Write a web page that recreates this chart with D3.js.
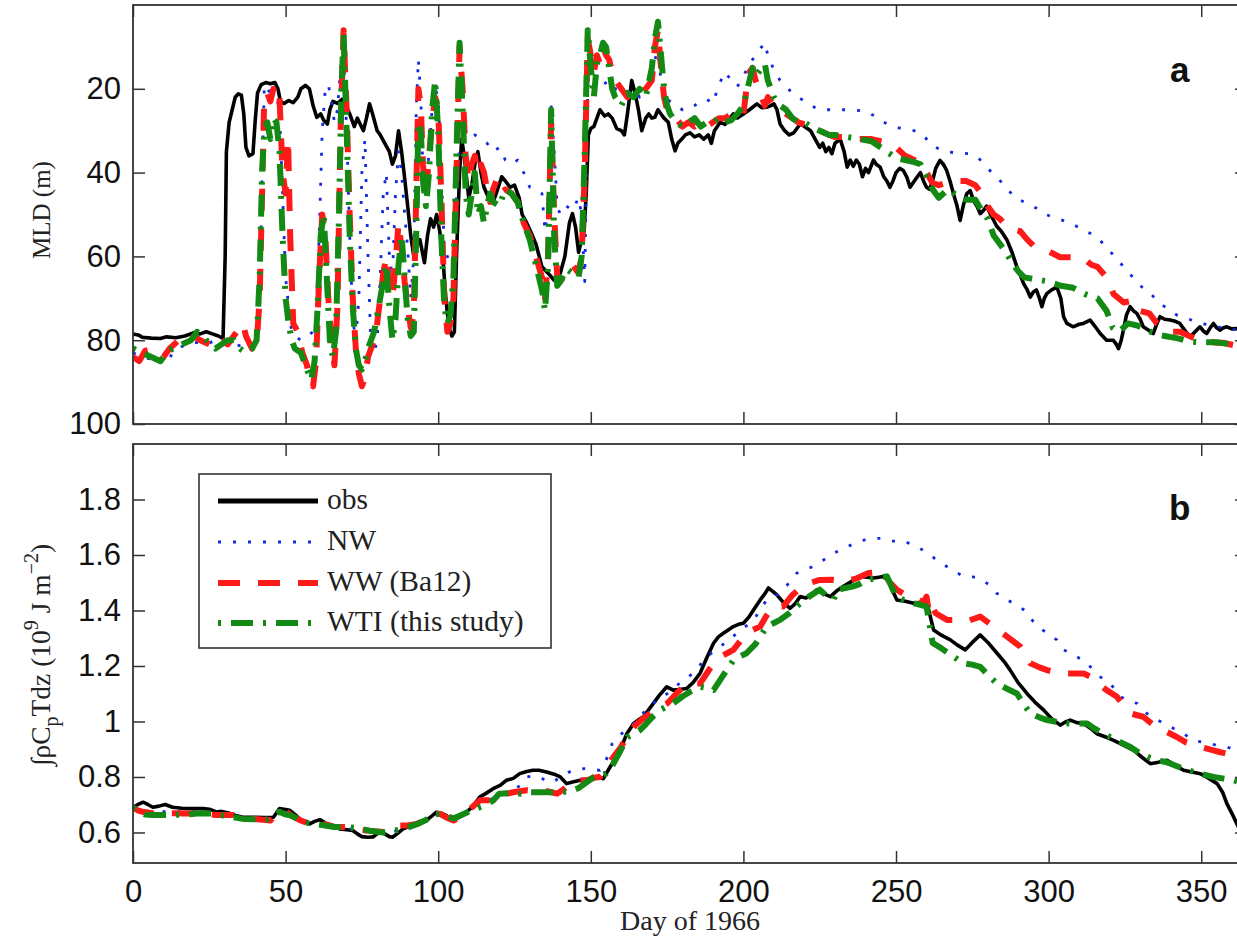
<!DOCTYPE html>
<html>
<head>
<meta charset="utf-8">
<script src="https://cdn.jsdelivr.net/npm/d3@7"></script>
<style>
  html, body { margin: 0; padding: 0; background: #fff; overflow: hidden; }
  svg { display: block; }
</style>
</head>
<body>
<script>
// ---------- data ----------
const dayTicks = [0, 50, 100, 150, 200, 250, 300, 350];
const mldTicks = [20, 40, 60, 80, 100];
const heatTicks = [0.6, 0.8, 1.0, 1.2, 1.4, 1.6, 1.8];
const seriesNames = ["obs", "NW", "WW (Ba12)", "WTI (this study)"];

// (a) mixed layer depth, m  — [day, depth]
const mldObs = [[0,78.5],[2,78.8],[3,79.3],[6,79.5],[9,79.6],[11,79.2],[14,79.4],[17,79],[20,78.2],[22,78.5],[24,78],[26,78.5],[28,79],[29.5,79.6],[30.2,60],[30.6,35],[31.5,28],[32.5,25],[33.5,22],[34.5,21.2],[35.5,21.5],[36.3,26],[37,34],[38,36],[39.3,35.5],[40,28],[40.8,21],[42,19],[43.5,18.5],[45,18.8],[46.5,18.5],[47.5,20],[48.3,23],[49.5,23.5],[51,22.8],[52.5,23.3],[54,22],[55,20],[56.5,19.2],[57.8,20],[59,24],[60.2,26.8],[61.5,26],[62.5,27.5],[63.7,28.4],[64.5,25],[65.5,23],[67,23.5],[68.5,22.5],[69.5,23.5],[71,26],[72.5,29],[73.5,27],[74.5,28.5],[75.5,30],[76.5,27],[77.5,23.6],[78.5,26],[80,30],[81,31],[82.5,33],[84,35],[85,38],[86,36],[87,30],[88,35],[88.8,40],[90,48],[91,55],[92,60],[93,57],[94,56],[95.5,61.5],[96.5,55],[97.5,51],[98.5,53],[99.5,50],[100.5,54],[101.5,60],[102.5,70],[103.5,77],[104.5,79],[105.3,78],[106,60],[107,40],[107.7,32],[108.5,36],[110,46],[111,43],[112.2,37],[113,35],[114,40],[115,43.5],[116.5,46],[118,47],[119,45],[120.8,41],[122,42],[123.5,43.5],[125,43],[126.5,46],[127.5,50],[129,52],[130.6,54.6],[132,57],[134,62.5],[136,64],[138,65.7],[139,64],[140,64],[141.5,60],[143,52],[144,49.8],[145,53],[146,59],[147,56],[147.8,54],[148.5,45],[149.2,31],[150,29.5],[151,29],[152,27],[153,25],[154.5,26.5],[155.7,26],[157,27],[158.5,29.5],[160,30],[161,31],[162,26],[163.4,18],[164.5,21],[165.6,25],[166.7,30],[168,27],[169,26],[170,27],[171,26.8],[172,25],[173,26],[174,27],[175.4,28],[176.5,32],[177.6,34.8],[178.5,33],[179.8,32],[181,31],[182.5,30.5],[184,31.5],[185.5,31],[187,32],[188.5,31],[189.5,33],[190.5,30],[192.4,28],[194,28.5],[196.7,26],[198,27],[200,26],[202,25],[204.4,23.6],[206,24.5],[207.6,24.4],[209,24],[210,23.6],[211,25],[212,28.4],[213.5,30],[215,31],[216.5,30.5],[218.6,28.4],[220,29],[222,30],[223.5,32],[225,34],[226,33],[227,35],[228,34],[229,35.5],[230,33],[231.7,32],[233,35],[234,38.7],[235,37],[236,38.5],[237,37],[238,38],[239,41],[240,39],[241,40],[242.6,37],[243.5,38],[244.8,38.7],[246,41],[247,42],[248,43.5],[249,42],[250,40],[251.2,39],[252.4,39.5],[253.5,41],[254.6,43.5],[256,42],[257,41],[258,40],[259,42],[260,43.5],[261,44],[262,41.9],[263,39],[264.4,37.1],[265.5,38],[266.6,39.5],[267.7,42],[268.8,45],[270,48],[271,51.4],[272,48],[273.2,45],[274.3,44.3],[275.4,46.7],[276.5,48],[277.6,49.8],[278.7,49],[279.7,48],[281,50],[283,52.8],[284.5,54],[286.3,56],[288,59],[289.6,62.5],[291,65],[291.8,66.5],[293,68],[294,69.7],[295,68.5],[296,68],[297,70],[297.8,72],[298.6,70],[299.4,68.9],[301,68],[302.7,67.3],[304,70],[304.9,74.4],[306,76],[308,76.8],[310,76.2],[311.4,76],[313.6,75.2],[315,76.5],[316.9,78.4],[319,80],[321.2,80],[322.2,81],[322.9,82],[323.8,80],[324.5,77.6],[325.5,74],[326.7,72],[327.8,73],[328.9,73.6],[330,75],[331,76.8],[332.5,77.5],[334.3,78.4],[335.5,76],[336.5,74.4],[338,75],[339.8,75.2],[341.5,75.5],[343,76],[345,78],[346.4,79.2],[348,78],[349.6,76.8],[350.7,77.8],[351.8,78.4],[353,77],[354,76],[355,77],[356.2,77.6],[357.3,77],[358.4,76.8],[360,77.3],[361.6,77.2],[363,77.5],[365,77.3]];

const mldNW = [[0,83],[3,84],[6.5,84.6],[9,84],[11,85.5],[13,83],[16,81.5],[20,80.5],[24,81],[27,80],[30,81],[33,81.6],[36,81],[39,81.6],[40.5,80],[41.5,72],[42.3,40],[43,20],[44,19],[45,22],[46,20],[47,22],[48,25],[49,45],[50,65],[51,72],[52,78],[53,79],[55,80],[57,79],[59,78],[60,75],[61,55],[62,30],[63,20],[64,19],[65,23],[66,28],[67,25],[68,15],[69,12],[70,30],[71,55],[72,75],[73,80],[74,70],[75,40],[76,32],[77,60],[78,82],[79,83],[80,80],[81,65],[82,45],[83,40],[84,60],[85,65],[86,45],[87,35],[88,40],[89,50],[90,58],[91,70],[92,60],[92.8,25],[93.5,13],[94.3,22],[95,40],[96,45],[97,35],[98,25],[99,20],[100,22],[101,40],[102,58],[103,60],[104,62],[105,60],[106,45],[107,33],[108,32],[110,32],[112,31],[114,32],[116,33],[118,35],[120,34],[122,37],[124,38],[126,37],[128,40],[130,43.5],[132,44],[134,45],[135,54],[136,48],[137,24],[138,35],[139,48],[140,50],[142,48],[144,49],[146,46],[147,50],[148,66],[149,20],[150,12],[151,18],[152,20],[154,19],[156,18],[158,20],[160,20],[162,21],[164,20],[166,22],[168,20],[170,18],[171,13],[172,11],[173,18],[174,22],[176,23],[178,24],[180,25],[182,25],[184,24],[186,23],[188,22.5],[190,23.5],[192,19],[194,16],[196,18],[198,19.5],[200,17],[202,14],[204,12],[206,10],[207,9],[208,12],[210,15.5],[212,18],[214,19.5],[216,21],[218,22],[220,23],[222,24],[225,25],[230,25],[235,25],[240,25.3],[243,26.5],[246,28],[249,29],[252,29.5],[256,30],[259,31],[261,33],[263,34],[266,35],[270,35.3],[274,35.5],[277,36.5],[280,39],[283,41],[286,43.5],[289,46],[292,47],[296,48.5],[299,50],[303,51],[307,52],[311,53.5],[315,55],[318,57],[321,59.5],[324,62],[327,64.5],[330,67],[333,68.5],[336,71],[339,72.5],[342,74],[346,75],[350,76],[354,76.5],[358,77.3],[362,77.5],[365,77.5]];

const mldWW = [[0,84],[2,85],[4,82.5],[7,82],[10,84],[12,82],[15,80],[18,81],[20,79],[22,80],[25,81],[27,82],[29,80],[31,81],[33,79],[35,77],[36,76],[37,79],[39,82],[40.5,81],[41.5,70],[42.3,45],[43,22],[44,21],[45,23],[46,20],[47,23],[48,22],[49,40],[50,45],[50.8,32],[51.5,55],[52.5,76],[54,78],[55.5,83],[57,86],[58,90],[59,91],[60,85],[61,65],[62,50],[63,55],[64,70],[65,80],[66,86],[67,72],[68,30],[69,6],[70,25],[71,50],[72,70],[73,82],[74,88],[75,91],[76,89],[77,84],[78,82],[79,80],[80,76],[81,70],[82,64],[83,60],[84,66],[85,70],[86,62],[87,52],[88,58],[89,66],[90,72],[91,77],[92,74],[92.8,45],[93.5,20],[94.3,24],[95,38],[96,45],[97,36],[98,28],[99,22],[100,25],[101,45],[102,70],[103,78],[104,76],[105,70],[106,40],[107,10],[108,20],[109,36],[110,42],[111,38],[112,36],[113,40],[114,38],[115,40],[116,44],[117,47],[118,44],[119,42],[120,45],[122,44],[124,45],[126,47],[128,52],[130,55],[132,60],[134,65],[135,70],[136,60],[137,28],[138,50],[139,65],[140,66],[142,64],[144,62],[146,64],[147,60],[148,40],[149,8],[150,12],[151,16],[152,12],[153,14],[154,10],[155,12],[156,13],[157,16],[158,18],[160,20],[162,22],[164,20],[166,21],[168,20],[170,18],[171,10],[172,6],[173,15],[174,22],[175,25],[176,26],[178,27],[180,29],[182,28],[184,29],[186,28],[188,29],[190,28],[192,27],[194,27],[196,26],[198,27],[200,26],[201,20],[202,16],[203,15],[204,18],[205,20],[206,22],[207,24],[208,22],[210,24],[212,25],[214,26],[216,27],[218,28],[220,28.5],[222,29],[225,30],[228,31],[230,31.5],[234,31.5],[238,32],[242,32],[245,32.5],[248,33],[250,34],[253,36],[256,37],[258,37.5],[260,40],[262,42.5],[264,43],[267,42.3],[270,42],[273,42],[276,43],[278,45],[280,48],[282,50],[284,51],[286.4,53],[288,53.5],[290.7,54],[293,56],[295,57.4],[299.5,58.6],[303.8,60.2],[308,60.2],[311.5,60.5],[314,62],[316,62.5],[319,65],[321.3,69],[324.6,71],[328,70.5],[330,73],[333,73.6],[335.5,76],[340,78],[343,78],[348.6,79.8],[355,80.6],[357,80.6],[362,81.4],[365,81.2]];

const mldWTI = [[0,82],[3,83],[6,84],[9,85],[11,83],[13,82],[16,81],[19,80],[21,78],[23,79],[25,81],[27,82],[29,81],[31,80],[33,80],[35,82],[37,83],[39,82],[40.5,80],[41.5,65],[42.3,40],[43,30],[44,28],[45,32],[46,27],[47,28],[48,35],[49,55],[50,70],[51,76],[52,80],[53,82],[55,83],[57,87],[58.4,89.5],[59.5,85],[60.5,72],[61.5,55],[62.5,50],[63.5,65],[64.5,80],[65.5,84],[66.5,78],[67.5,50],[68.3,20],[69,7],[70,30],[71,55],[72,72],[73,82],[74,86],[75,87],[76,85],[77,82],[78,80],[79,78],[80,74],[81,70],[82,66],[83,62],[84,72],[85,80],[86,75],[87,62],[88,55],[89,65],[90,75],[91,79],[92,78],[92.8,55],[93.5,28],[94.3,30],[95,42],[96,48],[97,40],[98,25],[99,18],[100,30],[101,55],[102,72],[103,76],[104,74],[105,65],[106,35],[107,9],[108,25],[109,45],[110,50],[111,45],[112,40],[113,50],[114,48],[115,52],[116,48],[117,45],[118,47],[120,48],[122,44],[124,45],[126,47],[128,52],[130,56],[132,62],[134,68],[135,73],[136,62],[137,25],[138,55],[139,67],[140,66],[142,63],[144,64],[146,65],[147,60],[148,35],[149,6],[150,15],[151,22],[152,14],[153,12],[154,9],[155,10],[156,15],[157,20],[158,22],[160,24],[162,21],[164,22],[166,20],[168,22],[170,15],[171,8],[172,4],[173,12],[174,20],[175,24],[176,26],[178,28],[180,29],[182,28],[184,27],[186,29],[188,28],[190,28],[192,27],[194,28],[196,27.5],[198,26],[200,24],[202,18],[203,15],[204,17],[205,16],[206,15],[207,14],[208,18],[210,22],[212,24],[214,25],[216,27],[218,28],[220,28],[222,29],[225,30],[228,31],[230,31],[234,31.5],[238,32],[242,32.5],[245,34],[248,35.5],[250,36.5],[253,37],[256,37.5],[258,38],[260,41],[262,44],[264,46],[267,44],[270,45.5],[273,46.5],[276,46.5],[278,49],[280,51],[282,55],[284,57],[286,59],[288,61.5],[290,63.5],[292,65],[296,65.5],[300,66],[304,67],[308,67.5],[312,69],[316,70],[319,73],[321,77],[323,78],[326,76],[329,76.5],[332,77.5],[335,78.5],[338,79],[342,79.5],[346,80.3],[350,80.5],[355,80.5],[360,81],[365,81]];

// (b) column heat content, 10^9 J m^-2 — [day, value]
const heatObs = [[0,0.691],[1.5,0.70],[3.3,0.709],[5,0.70],[6.5,0.691],[8.5,0.695],[10.5,0.701],[13,0.691],[16,0.687],[20,0.686],[23,0.686],[25,0.684],[27.3,0.674],[29,0.676],[31.7,0.669],[34,0.66],[36,0.655],[40,0.655],[43,0.654],[46,0.655],[47,0.67],[48,0.686],[49.5,0.684],[51.3,0.68],[53,0.665],[54.6,0.649],[56,0.64],[57.9,0.631],[59.5,0.64],[61.2,0.646],[62.3,0.64],[63.3,0.631],[65.5,0.624],[67.7,0.613],[70,0.61],[72,0.607],[73.5,0.595],[75,0.585],[77,0.583],[78.6,0.584],[80,0.595],[81,0.601],[82.5,0.595],[84,0.585],[85,0.583],[86.5,0.595],[88.5,0.613],[90.5,0.622],[92.8,0.631],[94.5,0.64],[96,0.643],[98,0.66],[99.4,0.673],[101,0.67],[102.7,0.661],[104.8,0.643],[107,0.656],[109.2,0.673],[111,0.69],[113.6,0.728],[115.5,0.74],[118,0.758],[120.3,0.77],[122.3,0.788],[124.6,0.795],[126.7,0.812],[129,0.82],[131,0.824],[133,0.824],[135.5,0.818],[138,0.81],[140,0.8],[142.1,0.776],[144,0.782],[146.5,0.788],[149,0.793],[151.9,0.8],[154.1,0.794],[156.3,0.836],[158,0.866],[159.6,0.896],[161.8,0.956],[164,0.993],[165.5,1.005],[167.2,1.017],[168.8,1.04],[170.5,1.065],[172.5,1.095],[174.9,1.125],[177,1.113],[179,1.115],[181.4,1.119],[183.5,1.14],[185.8,1.174],[188,1.23],[190.2,1.282],[191.8,1.305],[193.4,1.318],[195,1.33],[196.7,1.342],[198.4,1.35],[200,1.354],[201.7,1.375],[203.3,1.402],[205.5,1.438],[207,1.46],[208.2,1.481],[209.5,1.47],[210.9,1.457],[213,1.43],[215.3,1.408],[217,1.425],[218.6,1.45],[220.5,1.445],[222.5,1.46],[224.1,1.475],[226,1.462],[228.5,1.45],[230.5,1.47],[232.8,1.487],[235.5,1.505],[238.3,1.523],[240.5,1.52],[242.7,1.517],[245,1.521],[247,1.523],[248.5,1.48],[250.3,1.438],[253,1.433],[255.8,1.426],[258,1.43],[260.1,1.432],[261.2,1.38],[262.3,1.33],[265,1.31],[267.8,1.294],[270,1.276],[272.7,1.258],[275,1.285],[277.6,1.312],[280.5,1.28],[283.1,1.246],[285.5,1.215],[287.4,1.185],[290,1.14],[292.9,1.101],[295.5,1.07],[298.4,1.041],[301,1.01],[303.8,0.987],[305.5,0.998],[307.1,1.005],[309.2,0.996],[311.5,0.993],[313.8,0.975],[315.8,0.956],[318.5,0.945],[321.3,0.932],[324.5,0.915],[327.9,0.896],[330.5,0.872],[333.3,0.848],[336,0.853],[338.8,0.86],[341.5,0.842],[344.2,0.824],[347,0.818],[349.7,0.812],[352.5,0.795],[355.2,0.776],[357,0.745],[358.4,0.704],[360,0.67],[361.7,0.631],[363,0.60],[365,0.56]];

const heatNW = [[0,0.69],[3,0.68],[6,0.675],[12,0.675],[18,0.675],[24,0.675],[30,0.665],[35,0.653],[40,0.652],[45,0.65],[47,0.665],[49,0.685],[51,0.675],[54,0.655],[58,0.635],[62,0.628],[66,0.62],[70,0.615],[75,0.605],[80,0.603],[84,0.6],[88,0.61],[92,0.628],[96,0.645],[99,0.665],[102,0.66],[105,0.648],[109,0.675],[113,0.7],[116,0.716],[120,0.728],[124,0.75],[127,0.77],[129,0.8],[132,0.805],[134,0.795],[136.5,0.78],[138,0.785],[141,0.805],[144,0.825],[148,0.83],[153,0.824],[155,0.86],[157,0.92],[160,0.955],[164,0.993],[168,1.04],[171,1.07],[175,1.1],[179,1.137],[183.6,1.174],[188,1.233],[192.3,1.27],[195,1.29],[199,1.33],[203,1.36],[207.6,1.438],[212,1.462],[215,1.5],[217.5,1.535],[220,1.545],[223,1.56],[226,1.58],[228.5,1.60],[233,1.625],[238.3,1.65],[241.6,1.66],[245,1.66],[248,1.65],[252.5,1.65],[257,1.63],[261.2,1.60],[264.5,1.572],[268,1.55],[272,1.523],[276.5,1.52],[281,1.49],[283,1.462],[287,1.435],[292,1.402],[295,1.36],[298,1.33],[302.7,1.294],[305,1.258],[308,1.24],[311.5,1.22],[314.8,1.185],[317,1.16],[320.2,1.137],[323.5,1.09],[326,1.075],[329,1.065],[332.2,1.029],[335,1.01],[337.7,0.993],[340,0.98],[344.2,0.956],[347.5,0.932],[353,0.92],[356,0.912],[358.4,0.908],[361.7,0.896],[365,0.89]];

const heatWW = [[0,0.69],[1.5,0.68],[3,0.675],[6.5,0.669],[12,0.669],[17,0.668],[22,0.669],[27,0.663],[33,0.663],[37,0.649],[41,0.648],[45,0.643],[47,0.665],[48.5,0.68],[50,0.675],[52,0.66],[55,0.643],[58,0.63],[61,0.625],[63,0.63],[66,0.62],[71,0.619],[74,0.61],[76.5,0.607],[80,0.604],[83,0.601],[85,0.605],[87,0.625],[90,0.625],[93,0.631],[96,0.645],[98,0.669],[100.6,0.667],[102.5,0.655],[105,0.643],[108,0.66],[111,0.69],[113.7,0.716],[116,0.716],[118,0.716],[120,0.73],[122.5,0.74],[125,0.746],[129,0.752],[132,0.748],[134.5,0.752],[137,0.745],[139,0.74],[141,0.755],[144.3,0.788],[146.5,0.788],[148.7,0.788],[151,0.797],[153,0.8],[155,0.83],[157.4,0.872],[160,0.91],[162,0.95],[164,0.98],[166,1.0],[168.3,1.02],[171,1.04],[175,1.065],[178,1.1],[181.4,1.137],[183.5,1.137],[185.8,1.137],[189,1.19],[192.3,1.233],[194.5,1.245],[196.7,1.258],[199,1.29],[201,1.318],[203,1.33],[205.5,1.342],[207.5,1.38],[209.8,1.414],[211.5,1.414],[213,1.414],[216,1.455],[218.6,1.48],[222,1.50],[225,1.51],[229,1.511],[233,1.505],[237,1.515],[241,1.535],[244,1.538],[246,1.535],[248,1.5],[250.3,1.475],[252.5,1.46],[254.7,1.45],[257,1.44],[259,1.43],[260,1.45],[260.7,1.40],[261.2,1.426],[263,1.39],[266.7,1.366],[270,1.366],[273,1.36],[277.6,1.378],[282,1.342],[284,1.325],[286.4,1.306],[290.7,1.27],[292.5,1.24],[294,1.21],[297,1.195],[299.5,1.185],[303,1.175],[306,1.173],[311.5,1.173],[314,1.16],[316.5,1.135],[319,1.113],[322.4,1.089],[324.5,1.06],[326.8,1.029],[331,1.017],[334,0.99],[337.7,0.968],[342,0.944],[345,0.925],[349.7,0.908],[354,0.896],[356,0.89],[358,0.885],[360.6,0.884],[361.7,0.872],[365,0.865]];

const heatWTI = [[0,0.69],[2,0.675],[4,0.665],[6.5,0.663],[12,0.663],[17,0.665],[22,0.669],[26,0.668],[30,0.66],[33,0.655],[36,0.649],[40,0.648],[44,0.648],[46,0.66],[48,0.675],[50,0.665],[52,0.66],[55,0.643],[57,0.635],[60,0.63],[63,0.625],[66,0.62],[70,0.619],[74,0.615],[78,0.605],[82,0.6],[85,0.605],[89.5,0.616],[93,0.63],[96,0.645],[98,0.665],[100.5,0.667],[102.7,0.66],[105,0.65],[108,0.665],[111,0.68],[113.6,0.691],[115.8,0.7],[118,0.715],[120,0.74],[124.5,0.742],[127,0.74],[130,0.745],[133,0.745],[135.6,0.745],[139,0.745],[143.2,0.748],[146,0.76],[148.5,0.78],[151,0.8],[153,0.806],[155,0.812],[157,0.84],[159,0.88],[162,0.944],[164,0.955],[166,0.968],[168,0.99],[170.5,1.02],[172.7,1.041],[175,1.055],[177,1.065],[180,1.09],[183,1.11],[185.8,1.125],[188,1.12],[190.2,1.113],[193,1.16],[196.7,1.221],[199,1.235],[201,1.246],[204,1.28],[207.6,1.342],[210,1.355],[212,1.366],[215,1.39],[218.6,1.426],[221.5,1.45],[225,1.475],[227,1.455],[229.6,1.44],[230.6,1.474],[233,1.48],[236,1.487],[238,1.495],[240.5,1.511],[244,1.517],[247,1.523],[248,1.5],[250,1.45],[252.5,1.438],[256,1.426],[258,1.42],[260,1.414],[261,1.35],[262,1.283],[264,1.27],[265.6,1.258],[268,1.24],[270,1.225],[272,1.21],[275,1.205],[277.6,1.197],[280,1.17],[283,1.137],[286,1.12],[289.6,1.101],[292,1.06],[294,1.029],[297,1.015],[299.5,1.005],[302,1.0],[304,0.995],[307,0.993],[310,0.993],[312.6,0.993],[315,0.975],[318,0.955],[322.4,0.932],[324.5,0.92],[326.8,0.908],[330,0.885],[333,0.87],[335.5,0.86],[338,0.855],[340,0.848],[344,0.83],[347,0.82],[349.7,0.812],[354,0.8],[357,0.795],[360.6,0.788],[363,0.78],[365,0.775]];

// ---------- layout & styles ----------
const W = 1237, H = 941;
const sans = "'Liberation Sans', Arial, Helvetica, sans-serif";
const serif = "'Liberation Serif', 'Times New Roman', Times, serif";
const frameColor = "#333";
const tickLen = 12;

const styles = [
  { color: "#000000", width: 3.6, dash: null },
  { color: "#1428e0", width: 2.8, dash: "3,12" },
  { color: "#ff1a1a", width: 6, dash: "22,18" },
  { color: "#138a13", width: 6, dash: "3,10,22,10" }
];

const svg = d3.select("body").append("svg")
  .attr("width", W).attr("height", H)
  .style("background", "#fff");

const x = d3.scaleLinear().domain([0, 365]).range([133, 1247]);
const yTop = d3.scaleLinear().domain([0, 100]).range([5, 424]);      // depth increases downward
const yBot = d3.scaleLinear().domain([0.49, 2.0]).range([863, 444]);

function drawPanel(id, y, ticks, series, showXLabels, fmt) {
  const y0 = d3.min(y.range()), y1 = d3.max(y.range());   // top, bottom in pixels
  const x0 = x.range()[0], x1 = x.range()[1];
  const g = svg.append("g");

  g.append("clipPath").attr("id", "clip-" + id)
    .append("rect").attr("x", x0).attr("y", y0).attr("width", x1 - x0).attr("height", y1 - y0);

  // series
  const line = d3.line().x(d => x(d[0])).y(d => y(d[1]));
  const plot = g.append("g").attr("clip-path", `url(#clip-${id})`);
  series.forEach((s, i) => {
    const st = styles[i];
    plot.append("path")
      .datum(s)
      .attr("d", line)
      .attr("fill", "none")
      .attr("stroke", st.color)
      .attr("stroke-width", st.width)
      .attr("stroke-linejoin", "round")
      .attr("stroke-linecap", st.dash ? "butt" : "round")
      .attr("stroke-dasharray", st.dash);
  });

  // axes with inward ticks
  const axL = d3.axisLeft(y).tickValues(ticks).tickSize(-tickLen).tickPadding(12).tickFormat(fmt);
  const axR = d3.axisRight(y).tickValues(ticks).tickSize(-tickLen).tickFormat("");
  const axB = d3.axisBottom(x).tickValues(dayTicks).tickSize(-tickLen).tickPadding(17)
    .tickFormat(showXLabels ? d3.format("d") : "");
  const axT = d3.axisTop(x).tickValues(dayTicks).tickSize(-tickLen).tickFormat("");

  const style = sel => {
    sel.select(".domain").remove();
    sel.selectAll(".tick line").attr("stroke", frameColor).attr("stroke-width", 1.5);
    sel.selectAll(".tick text").attr("fill", "#111")
      .style("font-family", sans).style("font-size", "31px");
  };
  g.append("g").attr("transform", `translate(${x0},0)`).call(axL).call(style);
  g.append("g").attr("transform", `translate(${x1},0)`).call(axR).call(style);
  g.append("g").attr("transform", `translate(0,${y1})`).call(axB).call(style);
  g.append("g").attr("transform", `translate(0,${y0})`).call(axT).call(style);

  g.append("rect")
    .attr("x", x0).attr("y", y0).attr("width", x1 - x0).attr("height", y1 - y0)
    .attr("fill", "none").attr("stroke", frameColor).attr("stroke-width", 1.8);
  return g;
}

drawPanel("a", yTop, mldTicks, [mldObs, mldNW, mldWW, mldWTI], false, d3.format("d"));
drawPanel("b", yBot, heatTicks, [heatObs, heatNW, heatWW, heatWTI], true, d => d3.format("~g")(d));

// panel letters
svg.append("text").attr("x", 1170).attr("y", 82).text("a")
  .style("font-family", sans).style("font-weight", "bold").style("font-size", "35px").attr("fill", "#111");
svg.append("text").attr("x", 1169).attr("y", 520).text("b")
  .style("font-family", sans).style("font-weight", "bold").style("font-size", "35px").attr("fill", "#111");

// axis titles
svg.append("text")
  .attr("transform", "translate(50,210) rotate(-90)")
  .attr("text-anchor", "middle")
  .style("font-family", serif).style("font-size", "25px").attr("fill", "#222")
  .text("MLD (m)");

const yb = svg.append("text")
  .attr("transform", "translate(50,655) rotate(-90)")
  .attr("text-anchor", "middle")
  .style("font-family", serif).style("font-size", "27.5px").attr("fill", "#222");
yb.append("tspan").text("\u222BρC");
yb.append("tspan").attr("dy", 8).style("font-size", "20px").text("p");
yb.append("tspan").attr("dy", -8).text("Tdz (10");
yb.append("tspan").attr("dy", -12).style("font-size", "20px").text("9");
yb.append("tspan").attr("dy", 12).text(" J m");
yb.append("tspan").attr("dy", -12).style("font-size", "20px").text("\u22122");
yb.append("tspan").attr("dy", 12).text(")");

svg.append("text")
  .attr("x", 690).attr("y", 930).attr("text-anchor", "middle")
  .style("font-family", serif).style("font-size", "28px").attr("fill", "#222")
  .text("Day of 1966");

// legend
const lg = svg.append("g");
lg.append("rect").attr("x", 199).attr("y", 474).attr("width", 352).attr("height", 174)
  .attr("fill", "#fff").attr("stroke", frameColor).attr("stroke-width", 1.6);
const rowY = [501, 542, 583, 623];
seriesNames.forEach((name, i) => {
  const st = styles[i];
  lg.append("line")
    .attr("x1", 218).attr("x2", 318).attr("y1", rowY[i]).attr("y2", rowY[i])
    .attr("stroke", st.color)
    .attr("stroke-width", i === 0 ? 5 : st.width)
    .attr("stroke-dasharray", st.dash);
  lg.append("text").attr("x", 327).attr("y", rowY[i] + 8).text(name)
    .style("font-family", serif).style("font-size", "29.5px").attr("fill", "#222");
});
</script>
</body>
</html>
